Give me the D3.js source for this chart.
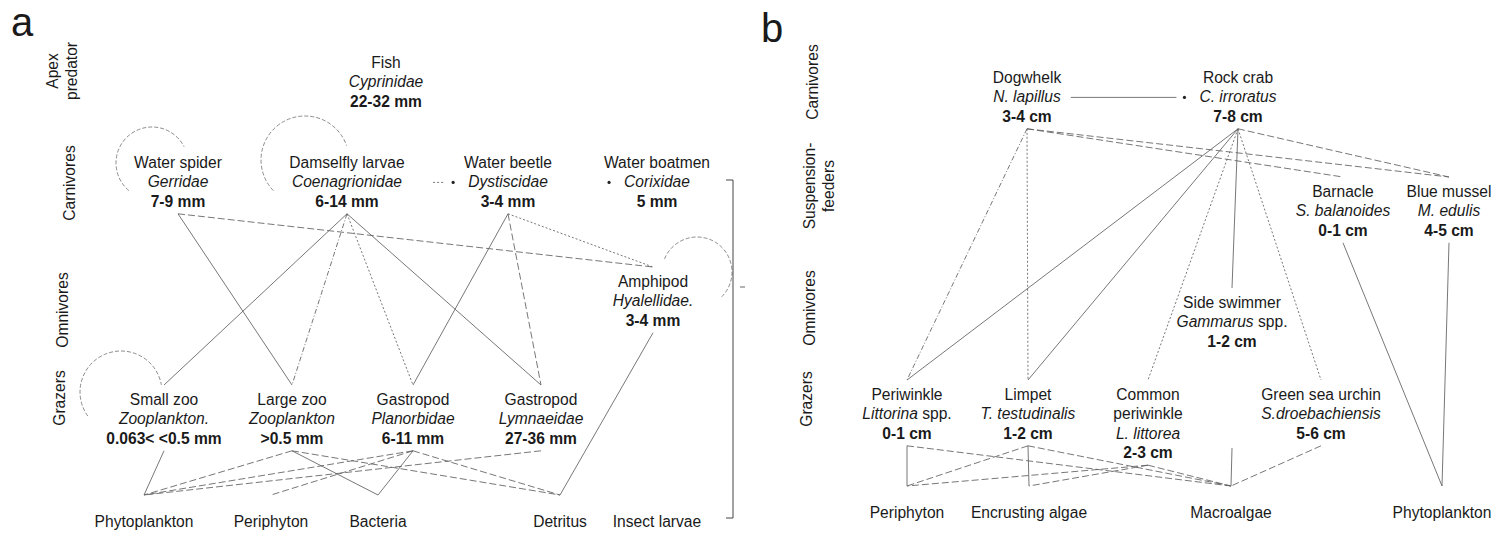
<!DOCTYPE html>
<html><head><meta charset="utf-8">
<script src="https://cdn.jsdelivr.net/npm/d3@7"></script>
<style>
body{margin:0;background:#fff;}
svg{display:block;}
text{font-family:"Liberation Sans", Arial, Helvetica, sans-serif;fill:#1a1a1a;}
</style>
</head><body>
<svg id="chart" width="1504" height="535"></svg>
<script>
// ================= DATA: panel a (freshwater web) =================
const levelsA = ["Apex predator", "Carnivores", "Omnivores", "Grazers", "Resources"];
const levelLabelsA = ["Apex\npredator", "Carnivores", "Omnivores", "Grazers"];
const idsA = ["fish","spider","damsel","beetle","boatmen","amphipod","smallzoo","largezoo","planorb","lymnae","phytoA","periA","bact","detr","insect"];
const namesA = ["Fish","Water spider","Damselfly larvae","Water beetle","Water boatmen","Amphipod","Small zoo","Large zoo","Gastropod","Gastropod","Phytoplankton","Periphyton","Bacteria","Detritus","Insect larvae"];
const taxaA = ["Cyprinidae","Gerridae","Coenagrionidae","Dystiscidae","Corixidae","Hyalellidae.","Zooplankton.","Zooplankton","Planorbidae","Lymnaeidae","","","","",""];
const sizesA = ["22-32 mm","7-9 mm","6-14 mm","3-4 mm","5 mm","3-4 mm","0.063< <0.5 mm",">0.5 mm","6-11 mm","27-36 mm","","","","",""];
const levelOfA = ["Apex predator","Carnivores","Carnivores","Carnivores","Carnivores","Omnivores","Grazers","Grazers","Grazers","Grazers","Resources","Resources","Resources","Resources","Resources"];
const colA = [28.6, 7.8, 24.7, 40.8, 55.7, 55.3, 6.4, 19.2, 31.3, 44.1, 4.4, 17.1, 27.8, 46.0, 55.7];
// [predator, prey, link kind]
const linksA = [
  ["spider","largezoo",1],["spider","amphipod",2],
  ["damsel","smallzoo",1],["damsel","largezoo",4],["damsel","planorb",3],["damsel","lymnae",1],
  ["beetle","planorb",1],["beetle","lymnae",2],["beetle","amphipod",3],
  ["amphipod","detr",1],
  ["smallzoo","phytoA",1],
  ["largezoo","phytoA",2],["largezoo","bact",1],["largezoo","detr",2],
  ["planorb","phytoA",2],["planorb","periA",2],["planorb","bact",1],["planorb","detr",2],
  ["lymnae","phytoA",2],
  ["damsel","beetle",3],["beetle","boatmen",0]
];
const loopsA = ["spider","damsel","smallzoo","amphipod"];

// ================= DATA: panel b (rocky intertidal web) =================
const levelsB = ["Carnivores", "Suspension-feeders", "Omnivores", "Grazers", "Resources"];
const levelLabelsB = ["Carnivores", "Suspension-\nfeeders", "Omnivores", "Grazers"];
const idsB = ["dogwhelk","rockcrab","barnacle","mussel","sideswim","periwinkle","limpet","commonper","urchin","periB","encrust","macro","phytoB"];
const namesB = ["Dogwhelk","Rock crab","Barnacle","Blue mussel","Side swimmer","Periwinkle","Limpet","Common\nperiwinkle","Green sea urchin","Periphyton","Encrusting algae","Macroalgae","Phytoplankton"];
const taxaB = ["N. lapillus","C. irroratus","S. balanoides","M. edulis","Gammarus spp.","Littorina spp.","T. testudinalis","L. littorea","S.droebachiensis","","","",""];
const sizesB = ["3-4 cm","7-8 cm","0-1 cm","4-5 cm","1-2 cm","0-1 cm","1-2 cm","2-3 cm","5-6 cm","","","",""];
const levelOfB = ["Carnivores","Carnivores","Suspension-feeders","Suspension-feeders","Omnivores","Grazers","Grazers","Grazers","Grazers","Resources","Resources","Resources","Resources"];
const colB = [16.7, 37.8, 48.3, 58.9, 37.2, 4.7, 16.8, 28.8, 46.1, 4.7, 16.9, 37.1, 58.2];
const linksB = [
  ["dogwhelk","rockcrab",1],
  ["dogwhelk","periwinkle",4],["dogwhelk","limpet",3],["dogwhelk","barnacle",2],["dogwhelk","mussel",2],
  ["rockcrab","periwinkle",1],["rockcrab","limpet",1],["rockcrab","commonper",3],["rockcrab","sideswim",1],["rockcrab","urchin",3],["rockcrab","mussel",2],
  ["barnacle","phytoB",1],["mussel","phytoB",1],
  ["sideswim","macro",1,"partial"],
  ["periwinkle","periB",1],["periwinkle","macro",2],
  ["limpet","periB",2],["limpet","encrust",1],["limpet","macro",2],
  ["commonper","periB",2],["commonper","encrust",2],["commonper","macro",2],
  ["urchin","macro",2]
];
const loopsB = [];

// ================= RENDERING =================
const svg = d3.select("#chart");
const LH = 19.4, FS = 15.6;
const dash = {0: null, 1: null, 2: "7,3", 3: "2,2", 4: "5,2,1,2"};

function drawPanel(p) {
  const g = svg.append("g");
  const linkG = g.append("g").attr("fill", "none").attr("stroke", "#5e5e5e").attr("stroke-width", 0.85);
  const textG = g.append("g");
  const x = d3.scaleLinear().domain([0, 60]).range(p.xRange);
  const y = d3.scaleOrdinal().domain(p.levels).range(p.yRange);
  const labY = d3.scaleOrdinal().domain(p.levels).range(p.labY);
  const labX = d3.scaleOrdinal().domain(p.levels).range(p.labX);

  // panel letter
  g.append("text").attr("x", p.letterPos[0]).attr("y", p.letterPos[1])
    .style("font-size", "40px").text(p.letter);

  // level labels (rotated)
  p.levelLabels.forEach((lab, i) => {
    const lv = p.levels[i];
    lab.split("\n").forEach((ln, j) => {
      g.append("text")
        .attr("transform", `translate(${labX(lv) + j * 19},${labY(lv)}) rotate(-90)`)
        .attr("text-anchor", "middle").style("font-size", FS + "px").text(ln);
    });
  });

  // nodes
  const nodes = new Map();
  p.ids.forEach((id, i) => {
    const lines = p.names[i].split("\n").map(t => ({t, style: "name"}));
    if (p.taxa[i]) lines.push({t: p.taxa[i], style: "taxon"});
    if (p.sizes[i]) lines.push({t: p.sizes[i], style: "size"});
    const y0 = y(p.levelOf[i]);
    const n = {id, lines, x: x(p.cols[i]), y0, lvl: p.levels.indexOf(p.levelOf[i]), widths: []};
    n.top = lines.length === 1 ? y0 - 32 : y0 - 20;
    n.bottom = y0 + (lines.length - 1) * LH + 7;
    lines.forEach((ln, j) => {
      const t = textG.append("text").attr("x", n.x).attr("y", y0 + j * LH)
        .attr("text-anchor", "middle").style("font-size", FS + "px");
      if (ln.style === "taxon") {
        const m = ln.t.match(/^(.*?)( spp\.)$/);
        if (m) { t.append("tspan").style("font-style", "italic").text(m[1]); t.append("tspan").text(m[2]); }
        else t.style("font-style", "italic").text(ln.t);
      } else if (ln.style === "size") {
        t.style("font-weight", "bold").text(ln.t);
      } else t.text(ln.t);
      n.widths.push(t.node().getComputedTextLength());
    });
    nodes.set(id, n);
  });

  // links
  p.links.forEach(([s, t, k, flag]) => {
    const a = nodes.get(s), b = nodes.get(t);
    if (a.lvl === b.lvl) {
      const yy = a.y0 + LH - 5;
      const xEnd = b.x - b.widths[1] / 2 - 23;
      if (k !== 0) {
        const xStart = k === 1 ? a.x + a.widths[1] / 2 + 10 : xEnd - 12;
        linkG.append("line").attr("x1", xStart).attr("y1", yy).attr("x2", xEnd).attr("y2", yy)
          .attr("stroke-dasharray", dash[k]);
      }
      linkG.append("circle").attr("cx", xEnd + 8).attr("cy", yy).attr("r", 1.6)
        .attr("fill", "#222").attr("stroke", "none");
    } else {
      const y1 = flag === "partial" ? b.top - 38 : a.bottom;
      linkG.append("line").attr("x1", a.x).attr("y1", y1).attr("x2", b.x).attr("y2", b.top)
        .attr("stroke-dasharray", dash[k]);
    }
  });

  // cannibalism loops
  const loopGeom = {
    spider:   {dx: -26, dy: -5,  r: 36, a0: 130, a1: 333},
    damsel:   {dx: -42, dy: -8,  r: 44, a0: 136, a1: 341},
    smallzoo: {dx: -43, dy: -13, r: 41, a0: 144, a1: 350},
    amphipod: {dx: 44,  dy: -15, r: 35, a0: 202, a1: 405}
  };
  p.loops.forEach(id => {
    const n = nodes.get(id), L = loopGeom[id];
    const path = d3.path();
    path.arc(n.x + L.dx, n.y0 + L.dy, L.r, L.a0 * Math.PI / 180, L.a1 * Math.PI / 180, false);
    linkG.append("path").attr("d", path.toString()).attr("stroke-dasharray", "4,2").attr("stroke", "#777");
  });

  if (p.after) p.after(g, nodes, y);
}

drawPanel({
  letter: "a", letterPos: [11, 36],
  levels: levelsA, levelLabels: levelLabelsA,
  ids: idsA, names: namesA, taxa: taxaA, sizes: sizesA, levelOf: levelOfA, cols: colA,
  links: linksA, loops: loopsA,
  xRange: [100, 700], yRange: [68, 168, 287, 405, 527],
  labY: [71, 183, 310, 398, 0], labX: [58, 75, 68, 65, 0],
  after: (g, nodes, y) => {
    // bracket grouping insect larvae
    const ins = nodes.get("insect");
    const bx = ins.x + 76, y1 = y("Carnivores") + 12, y2 = y("Resources") - 9;
    g.append("path").attr("d", `M${bx - 7},${y1}H${bx}V${y2}H${bx - 7}`)
      .attr("fill", "none").attr("stroke", "#444").attr("stroke-width", 1);
    g.append("line").attr("x1", bx + 7).attr("x2", bx + 12).attr("y1", y("Omnivores")).attr("y2", y("Omnivores"))
      .attr("stroke", "#666").attr("stroke-width", 1);
  }
});

drawPanel({
  letter: "b", letterPos: [761, 42],
  levels: levelsB, levelLabels: levelLabelsB,
  ids: idsB, names: namesB, taxa: taxaB, sizes: sizesB, levelOf: levelOfB, cols: colB,
  links: linksB, loops: loopsB,
  xRange: [860, 1460], yRange: [83, 197, 308, 400, 518],
  labY: [82, 186, 308, 399, 0], labX: [818, 815, 815, 812, 0]
});
</script>
</body></html>
